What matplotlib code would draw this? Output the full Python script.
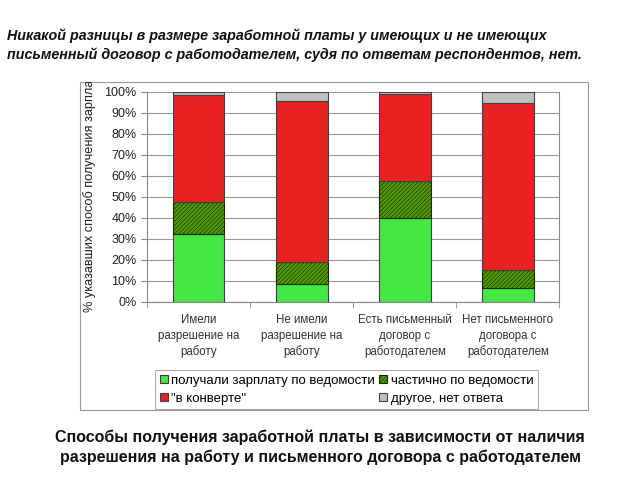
import numpy as np
import matplotlib.pyplot as plt
from matplotlib.patches import Rectangle

plt.rcParams['font.family'] = ['Liberation Sans', 'DejaVu Sans']
plt.rcParams['hatch.linewidth'] = 0.45

categories = ['Имели\nразрешение на\nработу', 'Не имели\nразрешение на\nработу',
              'Есть письменный\nдоговор с\nработодателем', 'Нет письменного\nдоговора с\nработодателем']
official = [32.4, 8.5, 40.2, 6.6]
partly = [15.4, 10.5, 17.5, 8.4]
envelope = [50.6, 76.6, 41.2, 79.7]
other = [1.6, 4.4, 1.1, 5.3]
series_names = ['получали зарплату по ведомости', 'частично по ведомости',
                '"в конверте"', 'другое, нет ответа']

fig = plt.figure(figsize=(6.4, 4.8), dpi=100)
ax = fig.add_axes([0.23, 0.371, 0.644, 0.4375])

x = np.arange(len(categories))
w = 0.5
ec = '#404040'
b1 = ax.bar(x, official, w, color='#44E844', edgecolor=ec, linewidth=0.8)
bottom = np.array(official)
b2 = ax.bar(x, partly, w, bottom=bottom, color='#4F9A00', edgecolor='#1a2a00',
            hatch='////////', linewidth=0.8)
bottom = bottom + partly
b3 = ax.bar(x, envelope, w, bottom=bottom, color='#E82222', edgecolor=ec, linewidth=0.8)
bottom = bottom + envelope
b4 = ax.bar(x, other, w, bottom=bottom, color='#C0C0C0', edgecolor=ec, linewidth=0.8)

ax.set_xlim(-0.5, 3.5)
ax.set_ylim(0, 100)
ax.set_yticks(np.arange(0, 101, 10))
ax.set_yticklabels([f'{v}%' for v in range(0, 101, 10)], fontsize=9, color='#222222')
ax.yaxis.grid(True, color='#999999', linewidth=0.8)
ax.set_axisbelow(True)
ax.set_xticks(x)
ax.set_xticklabels(categories, fontsize=8.3, color='#333333', linespacing=1.35)
ax.tick_params(axis='x', length=0, pad=9)
ax.tick_params(axis='y', length=4, color='#888888')
ax.set_xticks(np.arange(-0.5, 4, 1), minor=True)
ax.tick_params(axis='x', which='minor', length=4, color='#888888')
ax.spines['top'].set_visible(False)
for s in ['left', 'right', 'bottom']:
    ax.spines[s].set_color('#888888')

frame = Rectangle((80 / 640, 1 - 410 / 480), 508 / 640, 328 / 480, transform=fig.transFigure,
                  fill=False, edgecolor='#999999', linewidth=0.8)
fig.patches.append(frame)

ylab = fig.text(90 / 640, 1 - 312 / 480, '% указавших способ получения зарплаты',
                rotation=90, ha='center', va='bottom', fontsize=9.2, color='#222222')
ylab.set_clip_path(frame)

# column-wise fill: green, red | hatched, gray
leg = fig.legend([b1[0], b3[0], b2[0], b4[0]],
                 [series_names[0], series_names[2], series_names[1], series_names[3]],
                 ncol=2, loc='upper left', bbox_to_anchor=(155 / 640, 1 - 370 / 480),
                 borderaxespad=0,
                 fontsize=9.5, frameon=True, fancybox=False, edgecolor='#999999',
                 handlelength=0.6, handleheight=0.6, handletextpad=0.3,
                 columnspacing=0.3, labelspacing=0.45, borderpad=0.35)
leg.get_frame().set_linewidth(0.8)

fig.text(7 / 640, 1 - 45.5 / 480,
         'Никакой разницы в размере заработной платы у имеющих и не имеющих\n'
         'письменный договор с работодателем, судя по ответам респондентов, нет.',
         ha='left', va='center', fontsize=10.3, style='italic', fontweight='bold',
         linespacing=1.35, color='#111111')
fig.text(0.5, 1 - 447.5 / 480,
         'Способы получения заработной платы в зависимости от наличия\n'
         'разрешения на работу и письменного договора с работодателем',
         ha='center', va='center', fontsize=11.5, fontweight='bold',
         linespacing=1.35, color='#111111')

fig.savefig('out.png', dpi=100)
